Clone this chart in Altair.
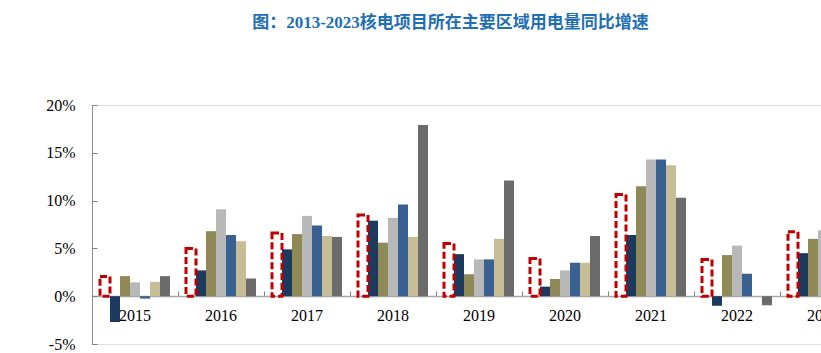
import altair as alt
import pandas as pd

# ---- data (values in %) ----
years = ['2015', '2016', '2017', '2018', '2019', '2020', '2021', '2022', '2023']
series_order = ['核电所在区域', '系列2', '系列3', '系列4', '系列5', '系列6', '系列7']

box_values = [2.05, 5.0, 6.6, 8.5, 5.5, 3.95, 10.65, 3.85, 6.75]
s2_values = [-2.7, 2.7, 4.9, 7.9, 4.4, 1.0, 6.4, -1.0, 4.5]
s3_values = [2.1, 6.8, 6.5, 5.6, 2.3, 1.8, 11.5, 4.3, 6.0]
s4_values = [1.45, 9.1, 8.4, 8.2, 3.85, 2.7, 14.3, 5.3, 6.9]
s5_values = [-0.25, 6.4, 7.4, 9.6, 3.85, 3.5, 14.3, 2.35, None]
s6_values = [1.5, 5.75, 6.3, 6.2, 6.0, 3.5, 13.7, 0.0, None]
s7_values = [2.1, 1.85, 6.2, 17.9, 12.1, 6.3, 10.3, -0.95, None]

filled_colors = ['#1B3A5E', '#8F8857', '#B8B8B8', '#386192', '#C6BD96', '#6B6B6B']
y_ticks = [-5, 0, 5, 10, 15, 20]

title_text = '图：2013-2023核电项目所在主要区域用电量同比增速'

# ---- tables ----
box_df = pd.DataFrame({'year': years, 'series': series_order[0], 'value': box_values})
rows = []
for name, vals in zip(series_order[1:], [s2_values, s3_values, s4_values, s5_values, s6_values, s7_values]):
    for y, v in zip(years, vals):
        if v is not None:
            rows.append({'year': y, 'series': name, 'value': v})
bar_df = pd.DataFrame(rows)

W, H = 729, 239
xscale = alt.Scale(domain=years, range=[0, 774], paddingInner=0, paddingOuter=0)
offscale = alt.Scale(domain=series_order, paddingInner=0, paddingOuter=0.8)
yscale = alt.Scale(domain=[-5, 20], nice=False, zero=False)

bars = alt.Chart(bar_df).mark_bar(cornerRadius=0).encode(
    x=alt.X('year:N', sort=years, scale=xscale,
            axis=alt.Axis(orient='bottom', offset=-48, domain=False, ticks=False, tickSize=0,
                          labelPadding=11, labelFont='Liberation Serif', labelFontSize=16,
                          labelColor='#000000', labelAngle=0, title=None)),
    xOffset=alt.XOffset('series:N', scale=offscale),
    y=alt.Y('value:Q', scale=yscale,
            axis=alt.Axis(orient='left', values=y_ticks, labelExpr="datum.value + '%'",
                          domain=True, domainColor='#8C8C8C', domainWidth=1,
                          ticks=False, tickSize=0, labelPadding=17, grid=False,
                          labelFont='Liberation Serif', labelFontSize=16,
                          labelColor='#000000', title=None)),
    color=alt.Color('series:N', scale=alt.Scale(domain=series_order[1:], range=filled_colors),
                    legend=None),
)

boxes = alt.Chart(box_df).mark_bar(
    fillOpacity=0, stroke='#C00000', strokeWidth=3, strokeDash=[7, 3]
).encode(
    x=alt.X('year:N', sort=years, scale=xscale,
            axis=alt.Axis(orient='top', offset=-191, labels=False, ticks=True, tickSize=5,
                          tickBand='extent', tickColor='#7F7F7F', domain=True,
                          domainColor='#A6A6A6', domainWidth=1.5, title=None)),
    xOffset=alt.XOffset('series:N', scale=offscale),
    y=alt.Y('value:Q', scale=yscale,
            axis=alt.Axis(orient='right', offset=-W, values=y_ticks, labels=False,
                          domain=False, ticks=True, tickSize=5, tickColor='#7F7F7F',
                          grid=False, title=None)),
)

chart = alt.layer(bars, boxes).resolve_axis(x='independent', y='independent').properties(
    width=W, height=H,
    title=alt.TitleParams(title_text, font='Liberation Serif, Noto Sans CJK SC', fontSize=17,
                          fontWeight='bold', color='#1F6FB5', anchor='middle', offset=65, dx=-6),
    autosize=alt.AutoSizeParams(type='none'),
    padding={'left': 92, 'top': 105, 'right': 0, 'bottom': 9},
).configure_view(stroke=None).configure(background='#FFFFFF')

chart.save('out.html', embed_options={'renderer': 'svg', 'actions': False})
